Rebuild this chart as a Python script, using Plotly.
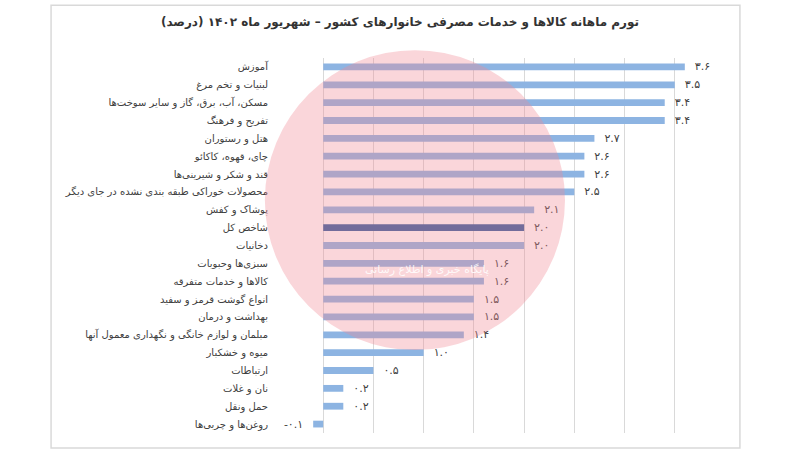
import plotly.graph_objects as go

categories = [
    "آموزش",
    "لبنیات و تخم مرغ",
    "مسکن، آب، برق، گاز و سایر سوخت‌ها",
    "تفریح و فرهنگ",
    "هتل و رستوران",
    "چای، قهوه، کاکائو",
    "قند و شکر و شیرینی‌ها",
    "محصولات خوراکی طبقه بندی نشده در جای دیگر",
    "پوشاک و کفش",
    "شاخص کل",
    "دخانیات",
    "سبزی‌ها وحبوبات",
    "کالاها و خدمات متفرقه",
    "انواع گوشت قرمز و سفید",
    "بهداشت و درمان",
    "مبلمان و لوازم خانگی و نگهداری معمول آنها",
    "میوه و خشکبار",
    "ارتباطات",
    "نان و غلات",
    "حمل ونقل",
    "روغن‌ها و چربی‌ها",
]
values = [3.6, 3.5, 3.4, 3.4, 2.7, 2.6, 2.6, 2.5, 2.1, 2.0, 2.0, 1.6, 1.6, 1.5, 1.5, 1.4, 1.0, 0.5, 0.2, 0.2, -0.1]
highlight = "شاخص کل"

fa_digits = str.maketrans("0123456789", "۰۱۲۳۴۵۶۷۸۹")
labels = [("-" if v < 0 else "") + f"{abs(v):.1f}".translate(fa_digits) for v in values]
labels = ["  " + t + "  " for t in labels]
colors = ["#2f5c9e" if c == highlight else "#8db4e2" for c in categories]

font = "DejaVu Sans"

fig = go.Figure(go.Bar(
    x=values, y=categories, orientation="h",
    marker=dict(color=colors, line=dict(width=0)),
    width=0.38,
    text=labels, textposition="outside", constraintext="none",
    textfont=dict(family=font, size=11, color="#404040"),
    cliponaxis=False,
))

fig.update_layout(
    width=800, height=451,
    margin=dict(l=273, r=75, t=58, b=18, autoexpand=False),
    paper_bgcolor="white", plot_bgcolor="white",
    showlegend=False,
    font=dict(family=font, size=10, color="#404040"),
    title=dict(
        text="<b>تورم ماهانه کالاها و خدمات مصرفی خانوارهای کشور – شهریور ماه ۱۴۰۲ (درصد)</b>",
        x=0.5, xref="container", y=0.951, yref="container",
        xanchor="center", yanchor="middle",
        font=dict(family=font, size=12, color="#333333"),
    ),
    xaxis=dict(range=[-0.5, 4.0], dtick=0.5, tick0=0, showgrid=True,
               gridcolor="#d9d9d9", gridwidth=1, zeroline=True,
               zerolinecolor="#d9d9d9", zerolinewidth=1, automargin=False,
               showticklabels=False, ticks="", showline=False, fixedrange=True),
    yaxis=dict(autorange="reversed", ticks="", showgrid=False, automargin=False,
               tickfont=dict(family=font, size=10, color="#404040"),
               ticklabelstandoff=4, showline=False, fixedrange=True),
    bargap=0.6,
    shapes=[
        dict(type="rect", xref="paper", yref="paper",
             x0=-0.491, x1=1.033, y0=-0.04, y1=1.141,
             line=dict(color="#d9d9d9", width=1.5), fillcolor="rgba(0,0,0,0)"),
        dict(type="circle", xref="paper", yref="paper",
             x0=-0.018, x1=0.646, y0=0.221, y1=1.021,
             line=dict(width=0), fillcolor="#f08a96", opacity=0.35, layer="above"),
    ],
    annotations=[
        dict(text="پایگاه خبری و اطلاع رسانی", xref="paper", yref="paper",
             x=0.2, y=0.435, showarrow=False,
             font=dict(family=font, size=11, color="rgba(255,255,255,0.85)")),
    ],
)

fig.write_html("out.html", config={"displayModeBar": False},
               post_script="document.body.style.margin='0';")
